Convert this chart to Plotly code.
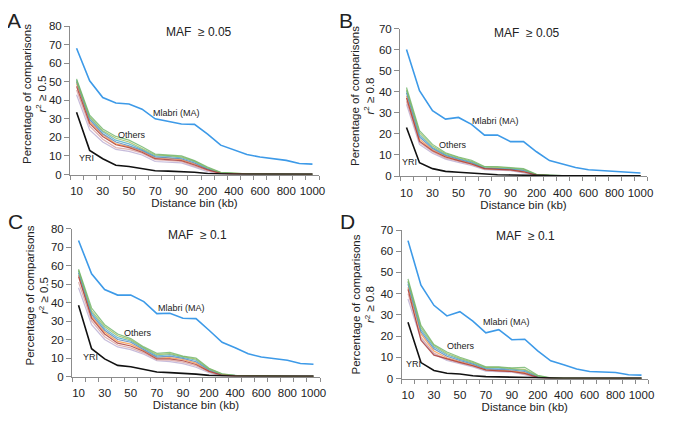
import plotly.graph_objects as go

# ---------------- data ----------------
bins = ["10", "20", "30", "40", "50", "60", "70", "80", "90", "100",
        "200", "300", "400", "500", "600", "700", "800", "900", "1000"]
tick_labels = ["10", "30", "50", "70", "90", "200", "400", "600", "800", "1000"]

other_names = ["Pop 1", "Pop 2", "Pop 3", "Pop 4", "Pop 5", "Pop 6", "Pop 7", "Pop 8"]
other_colors = ["#b9acd3", "#d9a0a0", "#f79646", "#4f81bd", "#4bacc6", "#9bbb59", "#6fb56a", "#a8322d"]

# Panel A: MAF >= 0.05, r2 >= 0.5
mlabri_A = [68, 50.5, 41.5, 38.5, 38, 35.2, 30, 28.6, 27.2, 27, 21.8, 15.8, 13.4, 10.8, 9.4, 8.4, 7.6, 5.9, 5.6]
yri_A = [33.5, 13, 8.5, 5, 4.3, 3, 2, 1.8, 1.6, 1.2, 0.5, 0.2, 0.1, 0.1, 0.1, 0.1, 0.05, 0.05, 0.05]
others_A = [
    [43, 24, 17.5, 13.5, 12.5, 10.5, 7, 6.8, 6.3, 4, 1.5, 0.3, 0.2, 0.1, 0.1, 0.05, 0.05, 0.05, 0.05],
    [45.5, 26, 19, 14.5, 13.5, 11.5, 8, 7.5, 7, 4.5, 2, 0.5, 0.3, 0.2, 0.1, 0.1, 0.05, 0.05, 0.05],
    [49, 28.5, 21.5, 16.5, 15, 12.5, 9, 8.8, 8, 5.8, 2.8, 0.7, 0.35, 0.2, 0.15, 0.1, 0.1, 0.1, 0.05],
    [50, 29.5, 22, 17.5, 15.5, 13, 9.5, 9, 8.5, 6.2, 3, 0.8, 0.4, 0.25, 0.2, 0.1, 0.1, 0.1, 0.1],
    [51, 30.5, 23, 18.5, 16.5, 13.5, 10, 9.8, 9, 6.8, 3.3, 0.9, 0.45, 0.3, 0.2, 0.15, 0.1, 0.1, 0.1],
    [50.5, 31, 23.5, 19.5, 17.5, 14, 10.5, 10.2, 9.5, 7.2, 3.6, 1.0, 0.5, 0.3, 0.2, 0.15, 0.1, 0.1, 0.1],
    [51.5, 32, 24.5, 20.5, 18.5, 15, 11, 10.5, 10, 7.5, 4, 1.2, 0.6, 0.4, 0.3, 0.2, 0.15, 0.1, 0.1],
    [47.5, 27.5, 20.5, 16, 14.5, 12, 8.5, 8.2, 7.5, 5.2, 2.5, 0.6, 0.3, 0.2, 0.15, 0.1, 0.1, 0.05, 0.05],
]

# Panel B: MAF >= 0.05, r2 >= 0.8
mlabri_B = [60, 40.5, 31, 27, 27.8, 24.5, 19.4, 19.4, 16.3, 16.3, 11.5, 7.3, 5.7, 4, 3, 2.6, 2.2, 1.6, 1.4]
yri_B = [23, 6.3, 3.5, 2.2, 1.8, 1.3, 0.8, 0.6, 0.5, 0.3, 0.1, 0.05, 0.05, 0.05, 0.05, 0.05, 0.05, 0.05, 0.05]
others_B = [
    [34, 15, 10.8, 8, 6.5, 5, 3, 2.8, 2.5, 1.5, 0.3, 0.1, 0.05, 0.05, 0.05, 0.03, 0.03, 0.03, 0.03],
    [35.5, 16, 11.5, 8.5, 7, 5.4, 3.2, 3, 2.7, 1.8, 0.4, 0.1, 0.05, 0.05, 0.05, 0.03, 0.03, 0.03, 0.03],
    [38, 17.5, 12.5, 9.3, 7.6, 6, 3.6, 3.5, 3.1, 2.3, 0.5, 0.15, 0.1, 0.05, 0.05, 0.05, 0.05, 0.03, 0.03],
    [39.5, 18.5, 13, 9.8, 8, 6.3, 3.8, 3.7, 3.3, 2.6, 0.55, 0.2, 0.1, 0.05, 0.05, 0.05, 0.05, 0.05, 0.05],
    [40.5, 19.5, 13.5, 10.2, 8.3, 6.7, 4, 3.9, 3.5, 2.9, 0.6, 0.2, 0.1, 0.1, 0.05, 0.05, 0.05, 0.05, 0.05],
    [41, 20.5, 14.2, 10.6, 8.7, 7, 4.3, 4.2, 3.8, 3.2, 0.7, 0.25, 0.1, 0.1, 0.05, 0.05, 0.05, 0.05, 0.05],
    [42, 21.5, 15, 11, 9, 7.5, 4.5, 4.5, 4, 3.5, 0.8, 0.3, 0.15, 0.1, 0.1, 0.05, 0.05, 0.05, 0.05],
    [37, 16.5, 12, 9, 7.3, 5.7, 3.5, 3.3, 2.9, 2, 0.45, 0.15, 0.1, 0.05, 0.05, 0.05, 0.03, 0.03, 0.03],
]

# Panel C: MAF >= 0.1, r2 >= 0.5
mlabri_C = [73.5, 55.5, 47, 44, 44, 40.5, 34, 34.2, 31.5, 31.3, 25, 18.5, 15.5, 12.3, 10.5, 9.5, 8.8, 7, 6.6]
yri_C = [38.5, 15, 9.5, 6, 5.3, 3.7, 2.4, 2.1, 1.8, 1.3, 0.6, 0.2, 0.1, 0.1, 0.1, 0.1, 0.1, 0.1, 0.1]
others_C = [
    [48, 28, 20, 16, 14.5, 12, 8.5, 8, 7, 5, 2, 0.3, 0.2, 0.1, 0.1, 0.05, 0.05, 0.05, 0.05],
    [51, 30, 21.5, 17, 15.5, 12.8, 9, 8.8, 7.8, 5.8, 2.4, 0.5, 0.25, 0.15, 0.1, 0.1, 0.05, 0.05, 0.05],
    [55, 32.5, 24, 19, 17.5, 14, 10, 10.2, 9.2, 7.2, 3.1, 0.8, 0.35, 0.2, 0.15, 0.1, 0.1, 0.1, 0.05],
    [56, 33.5, 25, 20, 18.5, 14.5, 10.5, 11, 9.8, 8, 3.5, 0.9, 0.4, 0.25, 0.2, 0.1, 0.1, 0.1, 0.1],
    [57, 34.5, 26, 21, 19.2, 15, 11.2, 11.8, 10.3, 8.8, 3.8, 1.1, 0.45, 0.3, 0.2, 0.15, 0.1, 0.1, 0.1],
    [57.5, 35.5, 27, 22, 19.8, 15.5, 11.8, 12.4, 10.7, 9.4, 4.1, 1.3, 0.5, 0.3, 0.2, 0.15, 0.1, 0.1, 0.1],
    [58, 37, 28, 23, 20.5, 16, 12.5, 13, 11, 10, 4.5, 1.5, 0.6, 0.4, 0.3, 0.2, 0.15, 0.1, 0.1],
    [54, 31.5, 23, 18, 16.5, 13.5, 9.5, 9.5, 8.5, 6.5, 2.8, 0.7, 0.3, 0.2, 0.15, 0.1, 0.1, 0.05, 0.05],
]

# Panel D: MAF >= 0.1, r2 >= 0.8
mlabri_D = [65, 44, 34.5, 29.5, 31.5, 27, 21.5, 23, 18.3, 18.5, 13, 8.3, 6.5, 4.5, 3.3, 2.9, 2.8, 1.8, 1.6]
yri_D = [26.5, 7.5, 3.8, 2.5, 2.1, 1.3, 0.9, 0.7, 0.5, 0.4, 0.15, 0.05, 0.05, 0.05, 0.05, 0.05, 0.05, 0.05, 0.05]
others_D = [
    [37.5, 18.5, 11.5, 8.5, 7, 5.5, 3.5, 3.2, 3, 1.8, 0.3, 0.1, 0.05, 0.05, 0.05, 0.03, 0.03, 0.03, 0.03],
    [40, 19.5, 12, 9, 7.4, 5.8, 3.8, 3.5, 3.2, 2.1, 0.4, 0.1, 0.05, 0.05, 0.05, 0.03, 0.03, 0.03, 0.03],
    [43, 21, 13, 9.8, 8, 6.3, 4.2, 4, 3.6, 2.8, 0.6, 0.15, 0.1, 0.05, 0.05, 0.05, 0.05, 0.03, 0.03],
    [44.5, 22, 14, 10.5, 8.5, 6.8, 4.5, 4.4, 4, 3.3, 0.8, 0.2, 0.1, 0.05, 0.05, 0.05, 0.05, 0.05, 0.05],
    [45.5, 23, 14.8, 11.2, 9, 7.2, 4.9, 4.9, 4.4, 3.8, 1, 0.2, 0.1, 0.1, 0.05, 0.05, 0.05, 0.05, 0.05],
    [46, 24, 15.5, 11.8, 9.5, 7.6, 5.2, 5.2, 4.7, 4.3, 1.2, 0.25, 0.1, 0.1, 0.05, 0.05, 0.05, 0.05, 0.05],
    [47, 25, 16, 12.5, 10, 8, 5.5, 5.5, 5, 5.3, 1.5, 0.3, 0.15, 0.1, 0.1, 0.05, 0.05, 0.05, 0.05],
    [42, 18, 11, 9.2, 7.6, 6, 4, 3.6, 3.3, 2.4, 0.5, 0.15, 0.1, 0.05, 0.05, 0.05, 0.03, 0.03, 0.03],
]

panel_letters = ["A", "B", "C", "D"]
maf_labels = ["MAF  ≥ 0.05", "MAF  ≥ 0.05", "MAF  ≥ 0.1", "MAF  ≥ 0.1"]
r2_labels = ["0.5", "0.8", "0.5", "0.8"]
y_maxes = [80, 70, 80, 70]

# ---------------- layout geometry ----------------
W, H = 685, 428
OFF = 8  # the page body has a default 8px margin; positions below are in window pixels
FONT = "Liberation Sans, Arial, sans-serif"
MLABRI_COLOR = "#3d9ae8"
AXIS_COLOR = "#8c8c8c"


def px(x):
    return (x - OFF) / W


def py(y):
    return 1 - (y - OFF) / H


# plot boxes in window pixels: (left, right, top, bottom)
boxes = [(70, 319, 26, 174.5), (400, 647, 28.5, 176), (72, 320, 228.5, 376.5), (401.5, 648, 230, 378.5)]
letter_pos = [(14, 20), (346, 20), (15, 221), (347, 221)]
maf_pos = [(199, 32), (527, 33), (197, 235), (525, 236)]
ytitle_pos = [(35, 94), (362, 96), (36.5, 296), (362.5, 304)]
mlabri_pos = [(176, 113), (495, 121), (182, 308), (506, 322)]
others_pos = [(132, 135), (453, 145), (138, 333), (461, 346)]
yri_pos = [(86, 158), (409, 162), (90, 357), (413, 364)]

x_idx = list(range(len(bins)))
tickvals = [bins.index(t) for t in tick_labels]

fig = go.Figure()
panels = [
    (mlabri_A, yri_A, others_A),
    (mlabri_B, yri_B, others_B),
    (mlabri_C, yri_C, others_C),
    (mlabri_D, yri_D, others_D),
]

annotations = []


def add_text(pos, text, size, **kw):
    annotations.append(dict(x=px(pos[0]), y=py(pos[1]), xref="paper", yref="paper",
                            text=text, showarrow=False, xanchor="center", yanchor="middle",
                            font=dict(family=FONT, size=size, color="#222"), **kw))


for p, (ml, yri, oth) in enumerate(panels):
    xa = "x" if p == 0 else f"x{p + 1}"
    ya = "y" if p == 0 else f"y{p + 1}"
    for k, series in enumerate(oth):
        fig.add_trace(go.Scatter(x=x_idx, y=series, mode="lines", name=other_names[k],
                                 line=dict(color=other_colors[k], width=1.2),
                                 opacity=0.8, xaxis=xa, yaxis=ya, showlegend=False))
    fig.add_trace(go.Scatter(x=x_idx, y=yri, mode="lines", name="YRI",
                             line=dict(color="#111111", width=1.6), xaxis=xa, yaxis=ya, showlegend=False))
    fig.add_trace(go.Scatter(x=x_idx, y=ml, mode="lines", name="Mlabri (MA)",
                             line=dict(color=MLABRI_COLOR, width=1.6), xaxis=xa, yaxis=ya, showlegend=False))

    l, r, t, b = boxes[p]
    xkey = "xaxis" if p == 0 else f"xaxis{p + 1}"
    ykey = "yaxis" if p == 0 else f"yaxis{p + 1}"
    fig.update_layout(**{
        xkey: dict(
            domain=[px(l), px(r)], anchor=ya, automargin=False,
            range=[-0.5, len(bins) - 0.5],
            tickmode="array", tickvals=tickvals, ticktext=tick_labels,
            tickangle=0,
            ticks="", showgrid=False, zeroline=False,
            showline=True, linecolor=AXIS_COLOR, linewidth=1,
            minor=dict(ticks="outside", ticklen=4, tickcolor=AXIS_COLOR, tick0=-0.5, dtick=1, showgrid=False),
            tickfont=dict(family=FONT, size=11.5, color="#222"),
            ticklabelstandoff=6,
            title=dict(text="Distance bin (kb)", font=dict(family=FONT, size=11.5, color="#222"), standoff=2),
        ),
        ykey: dict(
            domain=[py(b), py(t)], anchor=xa, automargin=False,
            range=[0, y_maxes[p]], dtick=10,
            ticks="outside", ticklen=5, tickcolor=AXIS_COLOR,
            showgrid=False, zeroline=False,
            showline=True, linecolor=AXIS_COLOR, linewidth=1,
            tickfont=dict(family=FONT, size=11.5, color="#222"),
        ),
    })

    add_text(ytitle_pos[p], f"Percentage of comparisons<br><i>r</i><sup>2</sup> ≥ {r2_labels[p]}", 11.5,
             textangle=-90)
    add_text(letter_pos[p], panel_letters[p], 21)
    add_text(maf_pos[p], maf_labels[p], 12)
    add_text(mlabri_pos[p], "Mlabri (MA)", 9)
    add_text(others_pos[p], "Others", 9)
    add_text(yri_pos[p], "YRI", 9)

fig.update_layout(
    width=W, height=H,
    margin=dict(l=0, r=0, t=0, b=0, autoexpand=False),
    paper_bgcolor="white", plot_bgcolor="white",
    annotations=annotations,
    showlegend=False,
)

fig.write_html("out.html")
